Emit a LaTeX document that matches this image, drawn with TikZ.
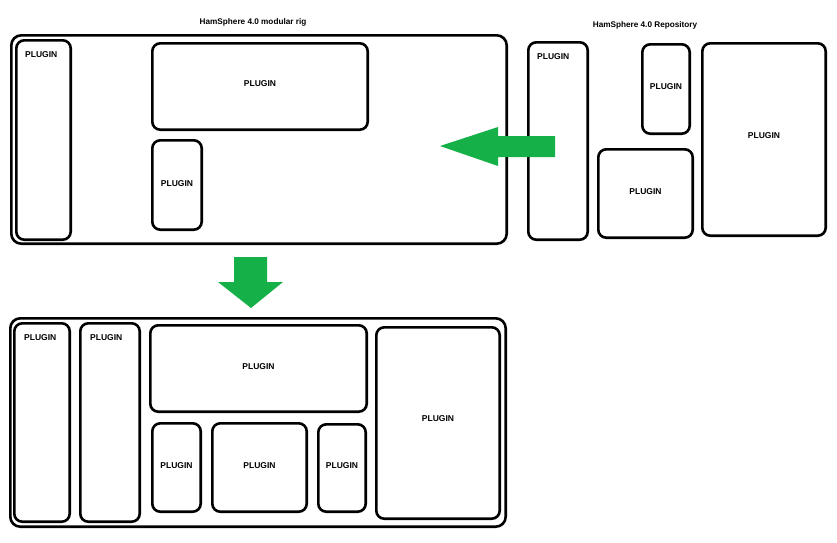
\documentclass[tikz,border=0pt]{standalone}
\usepackage{fontspec}
\setmainfont{Liberation Sans}
\usetikzlibrary{fit}
\definecolor{arrowgreen}{RGB}{22,176,72}
\tikzset{
  box/.style={draw=black, line width=2.6pt, rounded corners=8pt, inner sep=-1.3pt, fill=white},
  plug/.style={box, font=\fontsize{8.5}{10}\selectfont\bfseries},
  lbl/.style={inner sep=0pt, font=\fontsize{8.5}{10}\selectfont\bfseries, anchor=north west},
  ttl/.style={inner sep=0pt, font=\fontsize{8.2}{10}\selectfont\bfseries},
  garrow/.style={fill=arrowgreen, draw=none}
}
\begin{document}
\begin{tikzpicture}[x=1pt,y=-1pt]
\useasboundingbox (0,0) rectangle (837,542);
% titles
\node[ttl] (t1) at (253,22) {HamSphere 4.0 modular rig};
\node[ttl] (t2) at (645,25) {HamSphere 4.0 Repository};
% top rig
\node[box, rounded corners=10pt, fit={(10,34) (508,245)}] (rig) {};
\node[plug, fit={(15,39) (72,241)}] (a1) {};
\node[lbl] (a1l) at ([xshift=10pt,yshift=-12pt]a1.north west) {PLUGIN};
\node[plug, fit={(151,42) (369,131)}] (a2) {\raisebox{-1pt}{PLUGIN}};
\node[plug, fit={(151,139) (203,231)}] (a3) {\raisebox{-3pt}{PLUGIN}};
% repository
\node[plug, fit={(527,41) (589,241)}] (r1) {};
\node[lbl] (r1l) at ([xshift=10pt,yshift=-12pt]r1.north west) {PLUGIN};
\node[plug, fit={(641,43) (691,135)}] (r2) {\raisebox{-1pt}{PLUGIN}};
\node[plug, fit={(597,148) (694,239)}] (r3) {\raisebox{-2pt}{PLUGIN}};
\node[plug, fit={(701,42) (827,237)}] (r4) {\raisebox{1pt}{PLUGIN}};
% arrows
\fill[garrow] (440,146) -- (498,127) -- (498,136) -- (555,136) -- (555,157) -- (498,157) -- (498,166) -- cycle;
\fill[garrow] (234,257) -- (267,257) -- (267,282) -- (283,282) -- (251,308) -- (218,282) -- (234,282) -- cycle;
% bottom rig
\node[box, rounded corners=10pt, fit={(9,317) (507,528)}] (rig2) {};
\node[plug, fit={(13,322) (71,523)}] (b1) {};
\node[lbl] (b1l) at ([xshift=11pt,yshift=-12pt]b1.north west) {PLUGIN};
\node[plug, fit={(79,322) (141,523)}] (b2) {};
\node[lbl] (b2l) at ([xshift=11pt,yshift=-12pt]b2.north west) {PLUGIN};
\node[plug, fit={(149,324) (368,413)}] (b3) {\raisebox{-2pt}{PLUGIN}};
\node[plug, fit={(151,422) (202,513)}] (b4) {\raisebox{-3pt}{PLUGIN}};
\node[plug, fit={(211,422) (308,513)}] (b5) {\raisebox{-3pt}{PLUGIN}};
\node[plug, fit={(317,423) (367,513)}] (b6) {\raisebox{-2pt}{PLUGIN}};
\node[plug, fit={(375,326) (501,520)}] (b7) {\raisebox{2pt}{PLUGIN}};
\end{tikzpicture}
\end{document}
